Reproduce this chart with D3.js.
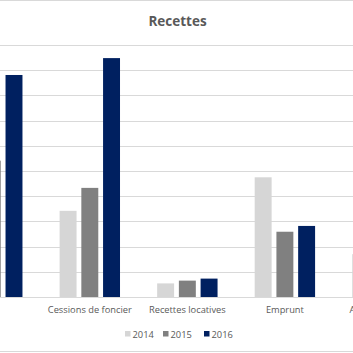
<!DOCTYPE html>
<html>
<head>
<meta charset="utf-8">
<script src="https://cdn.jsdelivr.net/npm/d3@7"></script>
<style>
  body { margin: 0; background: #fff; }
  svg { display: block; font-family: "Open Sans", sans-serif; }
</style>
</head>
<body>
<div id="chart"></div>
<script>
const categories = ["", "Cessions de foncier", "Recettes locatives", "Emprunt", "Autres recettes"];
const years = ["2014", "2015", "2016"];
const values2014 = [4.5, 3.42, 0.54, 4.75, 1.7];
const values2015 = [5.41, 4.33, 0.65, 2.59, 1.2];
const values2016 = [8.81, 9.48, 0.73, 2.82, 1.5];
const yTicks = [0, 1, 2, 3, 4, 5, 6, 7, 8, 9, 10];

(function() {
  const width = 353, height = 353;
  const colors = { "2014": "#d6d6d6", "2015": "#808080", "2016": "#002060" };
  const series = { "2014": values2014, "2015": values2015, "2016": values2016 };

  const rows = categories.map((c, i) => ({
    category: c,
    bars: years.map(y => ({ year: y, value: series[y][i] }))
  }));

  const svg = d3.select("#chart").append("svg")
    .attr("width", width)
    .attr("height", height);

  // chart border (top / bottom visible in the crop)
  svg.append("line").attr("x1", 0).attr("x2", width).attr("y1", 0.5).attr("y2", 0.5)
    .attr("stroke", "#d9d9d9");
  svg.append("line").attr("x1", 0).attr("x2", width).attr("y1", 351.5).attr("y2", 351.5)
    .attr("stroke", "#d9d9d9");

  svg.append("text")
    .attr("x", 177.5)
    .attr("y", 26)
    .attr("text-anchor", "middle")
    .attr("fill", "#595959")
    .attr("font-size", "13.5px")
    .attr("font-weight", "bold")
    .text("Recettes");

  const x0 = d3.scaleBand()
    .domain(categories)
    .range([-56.5, 431.2]);

  const x1 = d3.scaleBand()
    .domain(years)
    .range([0, 60.4])
    .paddingInner(0.22);
  const groupOffset = (x0.bandwidth() - 60.4) / 2;

  const y = d3.scaleLinear()
    .domain([0, 10])
    .range([297, 45]);

  svg.append("g")
    .selectAll("line")
    .data(yTicks)
    .enter()
    .append("line")
    .attr("x1", 0)
    .attr("x2", width)
    .attr("y1", d => Math.round(y(d)) + 0.5)
    .attr("y2", d => Math.round(y(d)) + 0.5)
    .attr("stroke", "#d9d9d9")
    .attr("stroke-width", 1);

  const groups = svg.append("g")
    .selectAll("g")
    .data(rows)
    .enter()
    .append("g")
    .attr("transform", d => `translate(${x0(d.category) + groupOffset},0)`);

  groups.selectAll("rect")
    .data(d => d.bars)
    .enter()
    .append("rect")
    .attr("x", d => x1(d.year))
    .attr("width", x1.bandwidth())
    .attr("y", d => y(d.value))
    .attr("height", d => y(0) - y(d.value))
    .attr("fill", d => colors[d.year]);

  svg.append("g")
    .selectAll("text")
    .data(categories)
    .enter()
    .append("text")
    .attr("x", d => x0(d) + x0.bandwidth() / 2)
    .attr("y", 313)
    .attr("text-anchor", "middle")
    .attr("fill", "#595959")
    .attr("font-size", "9.3px")
    .text(d => d);

  // legend
  const legendX = [125, 163, 204];
  const legend = svg.append("g")
    .selectAll("g")
    .data(years)
    .enter()
    .append("g")
    .attr("transform", (d, i) => `translate(${legendX[i]},331)`);

  legend.append("rect")
    .attr("width", 5.5)
    .attr("height", 5.5)
    .attr("fill", d => colors[d]);

  legend.append("text")
    .attr("x", 7.5)
    .attr("y", 6.8)
    .attr("fill", "#595959")
    .attr("font-size", "9.3px")
    .text(d => d);
})();
</script>
</body>
</html>
